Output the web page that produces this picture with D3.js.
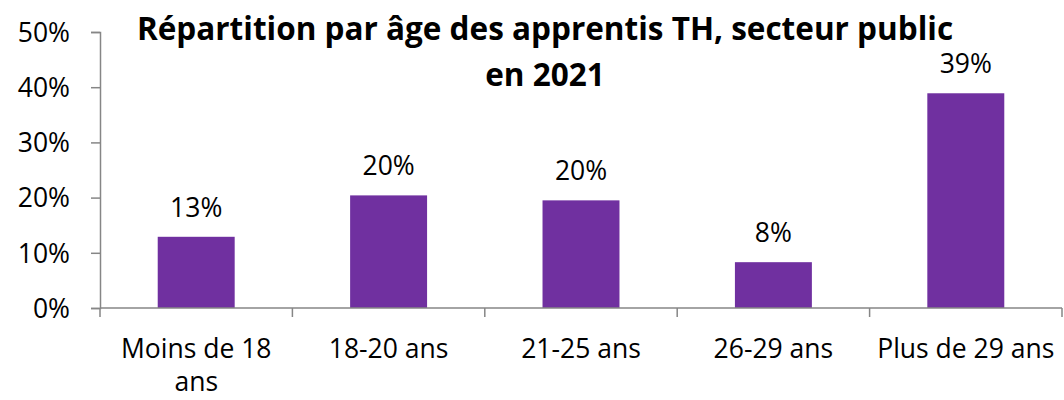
<!DOCTYPE html>
<html>
<head>
<meta charset="utf-8">
<script src="https://cdn.jsdelivr.net/npm/d3@7"></script>
<style>
    body { margin: 0; background: #fff; }
    svg text { font-family: "Open Sans", "Noto Sans", sans-serif; fill: #000; }
</style>
</head>
<body>
<div id="chart"></div>
<script>
// données
var categories = ["Moins de 18 ans", "18-20 ans", "21-25 ans", "26-29 ans", "Plus de 29 ans"];
var categoryLines = [["Moins de 18", "ans"], ["18-20 ans"], ["21-25 ans"], ["26-29 ans"], ["Plus de 29 ans"]];
var values = [0.129, 0.204, 0.195, 0.083, 0.389];
var valueLabels = ["13%", "20%", "20%", "8%", "39%"];
var yTicks = [0, 0.1, 0.2, 0.3, 0.4, 0.5];
var titleLines = ["Répartition par âge des apprentis TH, secteur public", "en 2021"];

var W = 1064, H = 400;
var margin = {top: 32, right: 2, bottom: 92, left: 100};
var w = W - margin.left - margin.right;
var h = H - margin.top - margin.bottom;
var barColor = "#7030a0";
var axisColor = "#868686";

var svg = d3.select("#chart").append("svg")
    .attr("width", W)
    .attr("height", H);

var x = d3.scaleBand().domain(categories).range([0, w]).paddingInner(0.6).paddingOuter(0.3);
var y = d3.scaleLinear().domain([0, 0.5]).range([h, 0]);

var g = svg.append("g")
    .attr("transform", "translate(" + margin.left + "," + margin.top + ")");

// barres
g.selectAll("rect.bar")
    .data(values)
    .enter().append("rect")
    .attr("class", "bar")
    .attr("x", (d, i) => x(categories[i]))
    .attr("y", d => y(d))
    .attr("width", x.bandwidth())
    .attr("height", d => h - y(d))
    .attr("fill", barColor);

// étiquettes de valeur
g.selectAll("text.val")
    .data(values)
    .enter().append("text")
    .attr("class", "val")
    .attr("x", (d, i) => x(categories[i]) + x.bandwidth() / 2)
    .attr("y", d => y(d) - 20)
    .attr("text-anchor", "middle")
    .style("font-size", "26.5px")
    .text((d, i) => valueLabels[i]);

// axe Y
var yAxis = d3.axisLeft(y).tickValues(yTicks).tickFormat(d3.format(".0%")).tickSize(9).tickPadding(21);
var yg = g.append("g").attr("class", "_y").call(yAxis);
yg.select(".domain").attr("stroke", axisColor).attr("stroke-width", 1.5);
yg.selectAll(".tick line").attr("stroke", axisColor).attr("stroke-width", 1.5);
yg.selectAll(".tick text").style("font-size", "26.5px").attr("dy", "0.35em");

// axe X : ligne de base + traits aux limites des catégories
var xg = g.append("g").attr("class", "_x")
    .attr("transform", "translate(0," + h + ")");
xg.append("line")
    .attr("x1", 0).attr("x2", w)
    .attr("stroke", axisColor).attr("stroke-width", 1.5);
var edges = d3.range(categories.length + 1).map(i => i * x.step());
xg.selectAll("line.tk")
    .data(edges)
    .enter().append("line")
    .attr("class", "tk")
    .attr("x1", d => d).attr("x2", d => d)
    .attr("y1", 0).attr("y2", 9)
    .attr("stroke", axisColor).attr("stroke-width", 1.5);

var lab = xg.selectAll("text.cat")
    .data(categories)
    .enter().append("text")
    .attr("class", "cat")
    .attr("text-anchor", "middle")
    .attr("transform", d => "translate(" + (x(d) + x.bandwidth() / 2) + ",50)")
    .style("font-size", "26.5px");
lab.selectAll("tspan")
    .data((d, i) => categoryLines[i])
    .enter().append("tspan")
    .attr("x", 0)
    .attr("y", (d, i) => i * 33)
    .text(d => d);

// titre
svg.append("text")
    .attr("class", "title")
    .attr("text-anchor", "middle")
    .style("font-size", "31.5px")
    .style("font-weight", "bold")
    .selectAll("tspan")
    .data(titleLines)
    .enter().append("tspan")
    .attr("x", 545)
    .attr("y", (d, i) => 40 + i * 46)
    .text(d => d);
</script>
</body>
</html>
